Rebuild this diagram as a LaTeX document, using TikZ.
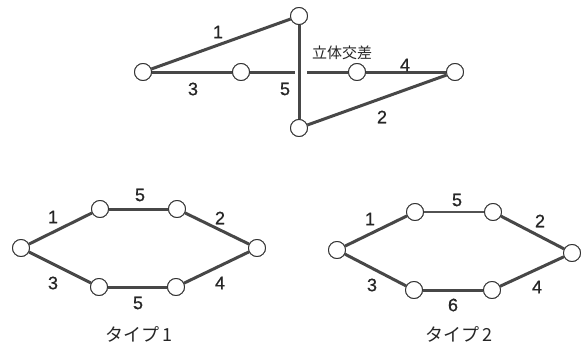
\documentclass[tikz,border=0pt]{standalone}
\usepackage{fontspec}
\setmainfont{Liberation Sans}[FakeBold=1]
\newfontfamily\digits{Liberation Sans}[FakeBold=0.8]
\newfontfamily\jp{Noto Sans CJK JP}
\begin{document}
\begin{tikzpicture}[x=1pt,y=-1pt,
  vtx/.style={circle,draw=black!80,line width=0.9pt,fill=white,minimum size=17pt,inner sep=0pt},
  edge/.style={draw=black!72,line width=3pt},
  thinedge/.style={draw=black!68,line width=2.5pt},
  lbl/.style={font=\digits\fontsize{18}{18}\selectfont,text=black!85},
  jlbl/.style={font=\jp\fontsize{18}{18}\selectfont,text=black!85}]
\useasboundingbox (0,0) rectangle (588,351);
% top diagram
\node[vtx] (A) at (143,72) {};
\node[vtx] (T) at (299,16) {};
\node[vtx] (M1) at (241,72) {};
\node[vtx] (M2) at (357,72) {};
\node[vtx] (R) at (455,72) {};
\node[vtx] (B) at (299,128) {};
\coordinate (g1) at (295,72);
\coordinate (g2) at (307,72);
\draw[edge] (A) -- (M1);
\draw[edge] (M1) -- (g1);
\draw[edge] (g2) -- (M2);
\draw[edge] (M2) -- (R);
\draw[edge] (A) -- (T);
\draw[edge] (T) -- (B);
\draw[edge] (B) -- (R);
\node[vtx] at (A) {};
\node[vtx] at (T) {};
\node[vtx] at (M1) {};
\node[vtx] at (M2) {};
\node[vtx] at (R) {};
\node[vtx] at (B) {};
\node[lbl] (l1) at (218,32) {1};
\node[lbl] (l3) at (193,89) {3};
\node[lbl] (l5) at (285,89) {5};
\node[lbl] (l4) at (405,65) {4};
\node[lbl] (l2) at (382,117) {2};
\node[font=\jp\fontsize{15}{15}\selectfont,text=black!85] (cross) at (342,53) {立体交差};
% type 1
\node[vtx] (aL) at (21,248) {};
\node[vtx] (aUL) at (100,209) {};
\node[vtx] (aUR) at (177,209) {};
\node[vtx] (aR) at (257,248) {};
\node[vtx] (aLL) at (99,287) {};
\node[vtx] (aLR) at (176,287) {};
\draw[edge] (aL) -- (aUL);
\draw[edge] (aUL) -- (aUR);
\draw[edge] (aUR) -- (aR);
\draw[edge] (aL) -- (aLL);
\draw[edge] (aLL) -- (aLR);
\draw[edge] (aLR) -- (aR);
\foreach \n in {aL,aUL,aUR,aR,aLL,aLR} \node[vtx] at (\n) {};
\node[lbl] (b1) at (53,217) {1};
\node[lbl] (b5) at (140,195) {5};
\node[lbl] (b2) at (220,218) {2};
\node[lbl] (b3) at (53,283) {3};
\node[lbl] (b5b) at (138,303) {5};
\node[lbl] (b4) at (220,283) {4};
\node[jlbl] (t1) at (139,334) {タイプ\,1};
% type 2
\node[vtx] (cL) at (337,250) {};
\node[vtx] (cUL) at (415,212) {};
\node[vtx] (cUR) at (493,212) {};
\node[vtx] (cR) at (572,253) {};
\node[vtx] (cLL) at (414,290) {};
\node[vtx] (cLR) at (492,290) {};
\draw[edge] (cL) -- (cUL);
\draw[thinedge] (cUL) -- (cUR);
\draw[edge] (cUR) -- (cR);
\draw[edge] (cL) -- (cLL);
\draw[edge] (cLL) -- (cLR);
\draw[edge] (cLR) -- (cR);
\foreach \n in {cL,cUL,cUR,cR,cLL,cLR} \node[vtx] at (\n) {};
\node[lbl] (d1) at (370,219) {1};
\node[lbl] (d5) at (457,200) {5};
\node[lbl] (d2) at (540,221) {2};
\node[lbl] (d3) at (372,285) {3};
\node[lbl] (d6) at (453,305) {6};
\node[lbl] (d4) at (537,287) {4};
\node[jlbl] (t2) at (459,334) {タイプ\,2};
\end{tikzpicture}
\end{document}
